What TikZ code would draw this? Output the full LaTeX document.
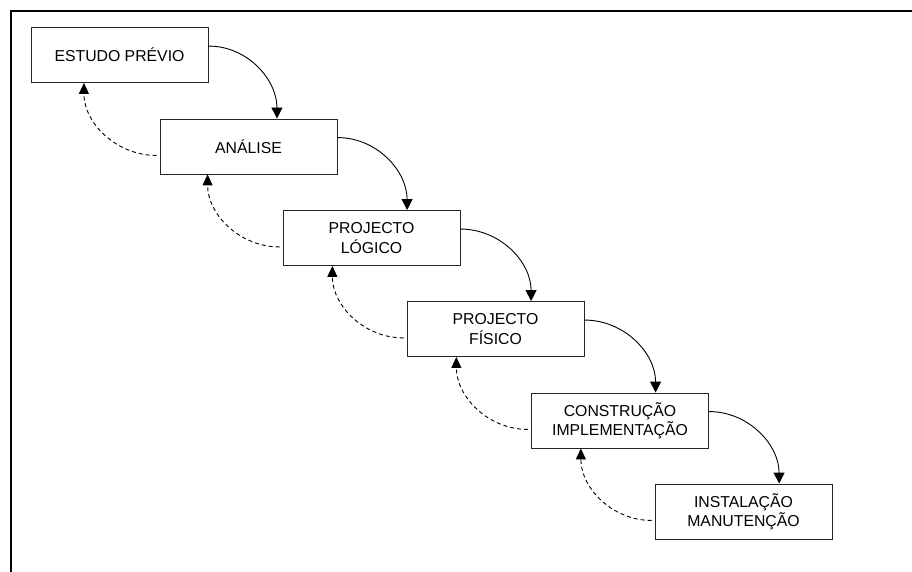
\documentclass[tikz,border=0pt]{standalone}
\usepackage{fontspec}
\setmainfont{Liberation Sans}
\usetikzlibrary{arrows.meta,calc}
\begin{document}
\begin{tikzpicture}[x=1pt,y=-1pt,
  phase/.style={draw=black!85,line width=0.9pt,minimum width=177pt,minimum height=55pt,
    inner sep=0pt,align=center,font=\fontsize{15.8}{19.5}\selectfont},
  forward/.style={line width=0.9pt,-{Triangle[width=11pt,length=11pt]}},
  feedback/.style={line width=0.9pt,dash pattern=on 4pt off 3pt,-{Triangle[width=10pt,length=11pt]}},
  frameline/.style={line width=2.6pt,black}]
\useasboundingbox (0,0) rectangle (912,572);

% frame
\draw[frameline] (9.7,11) -- (912,11);
\draw[frameline] (11,9.7) -- (11,572);

% phases
\node[phase] (est) at (119.5,55) {ESTUDO PRÉVIO};
\node[phase] (ana) at (248.5,146.5) {ANÁLISE};
\node[phase] (plog) at (371.5,238) {PROJECTO\\LÓGICO};
\node[phase] (pfis) at (495.5,329) {PROJECTO\\FÍSICO};
\node[phase] (cons) at (620,420.5) {CONSTRUÇÃO\\IMPLEMENTAÇÃO};
\node[phase] (inst) at (743.5,511.5) {INSTALAÇÃO\\MANUTENÇÃO};

% forward flow
\draw[forward] ($(est.north east)!0.34!(est.south east)$) to[out=0,in=90] ($(ana.north west)!0.66!(ana.north east)$);
\draw[forward] ($(ana.north east)!0.34!(ana.south east)$) to[out=0,in=90] ($(plog.north west)!0.70!(plog.north east)$);
\draw[forward] ($(plog.north east)!0.34!(plog.south east)$) to[out=0,in=90] ($(pfis.north west)!0.70!(pfis.north east)$);
\draw[forward] ($(pfis.north east)!0.34!(pfis.south east)$) to[out=0,in=90] ($(cons.north west)!0.70!(cons.north east)$);
\draw[forward] ($(cons.north east)!0.34!(cons.south east)$) to[out=0,in=90] ($(inst.north west)!0.70!(inst.north east)$);

% feedback
\draw[feedback] ($(ana.north west)!0.66!(ana.south west)+(-3,0)$) to[out=180,in=-90] ($(est.south west)!0.30!(est.south east)$);
\draw[feedback] ($(plog.north west)!0.66!(plog.south west)+(-3,0)$) to[out=180,in=-90] ($(ana.south west)!0.27!(ana.south east)$);
\draw[feedback] ($(pfis.north west)!0.66!(pfis.south west)+(-3,0)$) to[out=180,in=-90] ($(plog.south west)!0.28!(plog.south east)$);
\draw[feedback] ($(cons.north west)!0.66!(cons.south west)+(-3,0)$) to[out=180,in=-90] ($(pfis.south west)!0.28!(pfis.south east)$);
\draw[feedback] ($(inst.north west)!0.66!(inst.south west)+(-3,0)$) to[out=180,in=-90] ($(cons.south west)!0.28!(cons.south east)$);
\end{tikzpicture}
\end{document}
